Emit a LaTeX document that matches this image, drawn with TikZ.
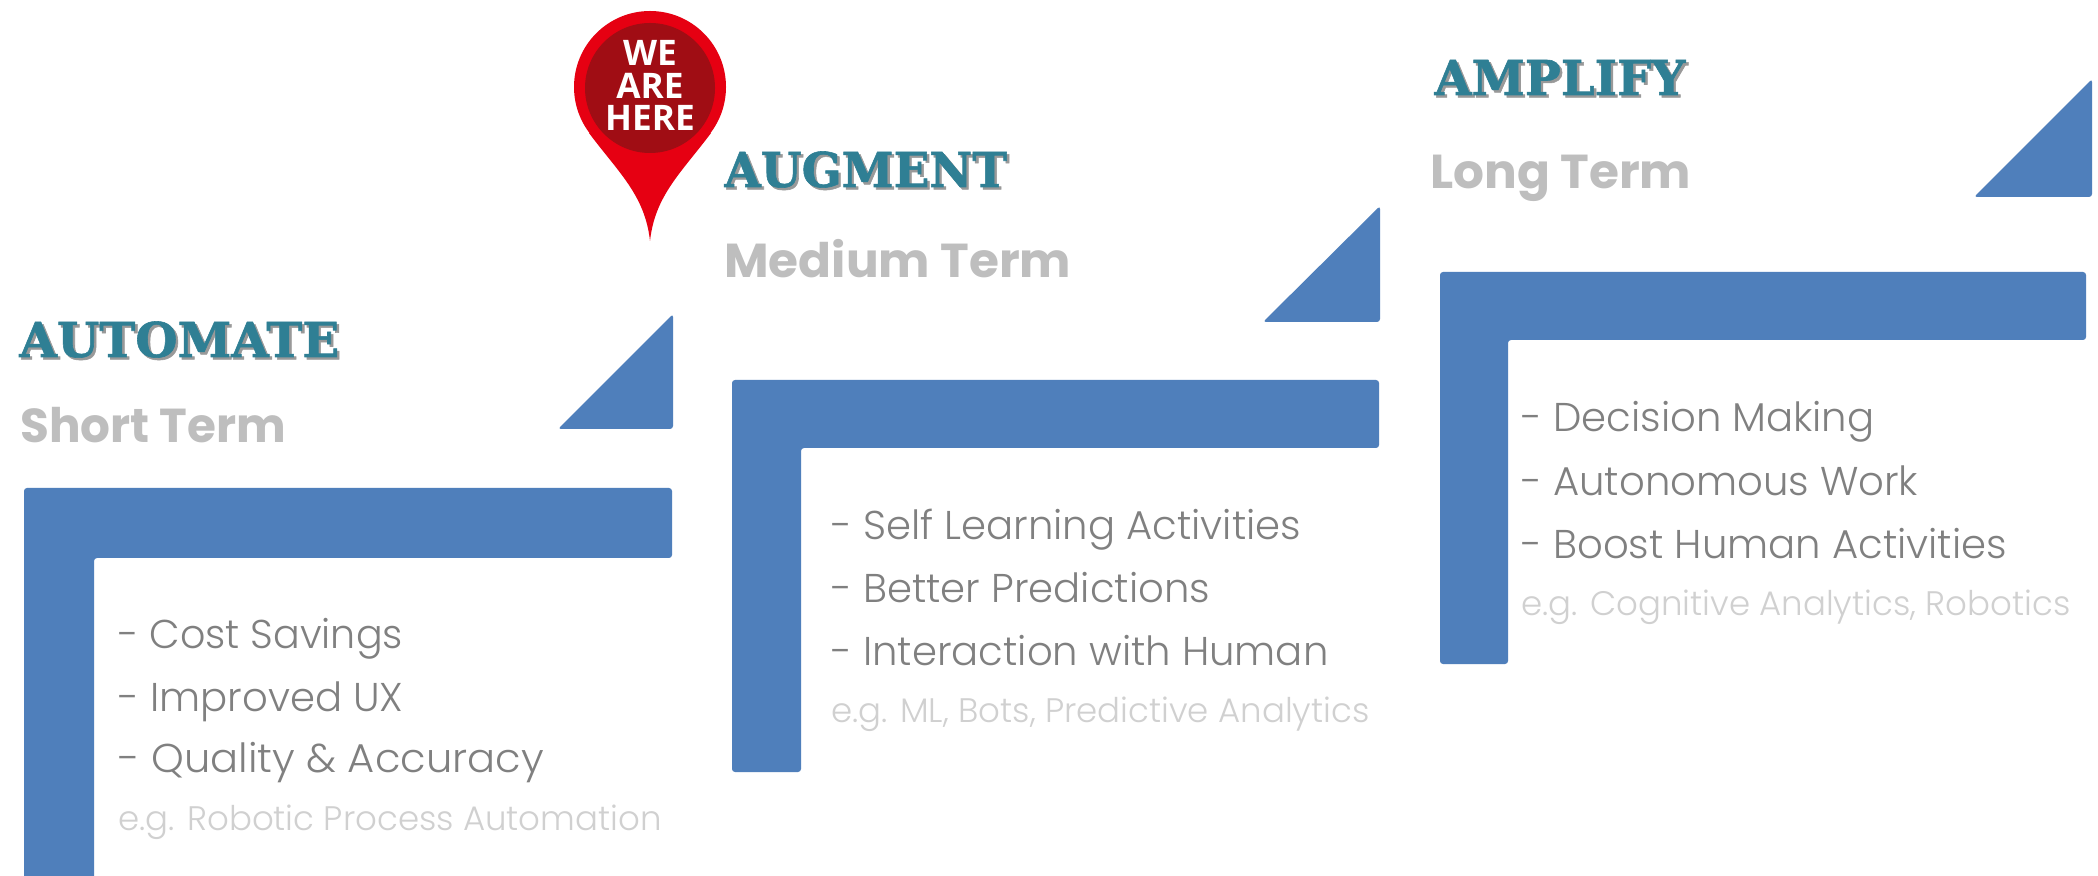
\documentclass[tikz,border=0pt]{standalone}
\usepackage{fontspec}
\setmainfont{Poppins Light}
\newfontfamily\headfont{DejaVu Serif Bold}[FakeBold=1.2]
\newfontfamily\pinfont{Open Sans}
\newfontfamily\subfont{Poppins}
\definecolor{barblue}{HTML}{4F7FBB}
\definecolor{headteal}{HTML}{2F7F94}
\definecolor{subgrey}{HTML}{BEBEBE}
\definecolor{bodygrey}{HTML}{808080}
\definecolor{egrey}{HTML}{D0D0D0}
\definecolor{pinred}{HTML}{E60012}
\definecolor{pindark}{HTML}{A00D14}
\newcommand{\shadowed}[1]{\rlap{\kern1.2pt\raisebox{-1.2pt}{\color{black!40}#1}}#1}
\tikzset{
  x=0.5pt,y=-0.5pt,
  barshape/.style={fill=barblue,rounded corners=1.5pt},
  headtext/.style={anchor=base west,inner sep=0pt,text=headteal,font=\headfont\fontsize{24}{26}\selectfont},
  subtext/.style={anchor=base west,inner sep=0pt,text=subgrey,font=\subfont\bfseries\fontsize{23.8}{26}\selectfont},
  bodytext/.style={anchor=base west,inner sep=0pt,text=bodygrey,font=\fontsize{20.1}{22}\selectfont},
  egtext/.style={anchor=base west,inner sep=0pt,text=egrey,font=\fontsize{17}{20}\selectfont},
  pintext/.style={anchor=base,inner sep=0pt,text=white,font=\pinfont\bfseries\fontsize{17.6}{18}\selectfont},
}
\begin{document}
\begin{tikzpicture}
\useasboundingbox (0,0) rectangle (2098,876);
\fill[white] (0,0) rectangle (2098,876);
% bars
\fill[barshape] (24,890) -- (24,488) -- (672,488) -- (672,558) -- (94,558) -- (94,890) -- cycle;
\fill[barshape] (558,429) -- (673,314) -- (673,429) -- cycle;
\fill[barshape] (732,772) -- (732,380) -- (1379,380) -- (1379,448) -- (801,448) -- (801,772) -- cycle;
\fill[barshape] (1263,322) -- (1380,206) -- (1380,322) -- cycle;
\fill[barshape] (1440,664) -- (1440,272) -- (2086,272) -- (2086,340) -- (1508,340) -- (1508,664) -- cycle;
\fill[barshape] (1974,197) -- (2092,79) -- (2092,197) -- cycle;
% pin
\fill[pinred] (650,87) circle[radius=76];
\fill[pinred] (589,133) .. controls (618,172) and (645,195) .. (650,241) .. controls (655,195) and (682,172) .. (711,133) -- cycle;
\fill[pindark] (650,88) circle[radius=65];
\node[pintext] (pinA) at (650,66) {WE};
\node[pintext] (pinB) at (650,98.5) {ARE};
\node[pintext] (pinC) at (650,131) {HERE};
% group 1
\node[headtext] (h1) at (19,357) {\shadowed{\scalebox{1.01}[1]{AUTOMATE}}};
\node[subtext] (s1) at (20,443) {\scalebox{0.985}[1]{Short Term}};
\node[bodytext] (a1) at (118,648) {\scalebox{0.985}[1]{- Cost Savings}};
\node[bodytext] (a2) at (118,711) {- Improved UX};
\node[bodytext] (a3) at (118,772) {\scalebox{1.035}[1]{- Quality \& Accuracy}};
\node[egtext] (a4) at (118,830) {e.g. Robotic Process Automation};
% group 2
\node[headtext] (h2) at (724,187) {\shadowed{\scalebox{0.977}[1]{AUGMENT}}};
\node[subtext] (s2) at (724,278) {\scalebox{1.02}[1]{Medium Term}};
\node[bodytext] (b1) at (831,540) {- Self Learning Activities};
\node[bodytext] (b2) at (831,603) {- Better Predictions};
\node[bodytext] (b3) at (831,665) {- Interaction with Human};
\node[egtext] (b4) at (831,722) {e.g. ML, Bots, Predictive Analytics};
% group 3
\node[headtext] (h3) at (1434,95) {\shadowed{AMPLIFY}};
\node[subtext] (s3) at (1430,189) {\scalebox{1.02}[1]{Long Term}};
\node[bodytext] (c1) at (1521,432) {- Decision Making};
\node[bodytext] (c2) at (1521,496) {- Autonomous Work};
\node[bodytext] (c3) at (1521,559) {- Boost Human Activities};
\node[egtext] (c4) at (1521,615) {e.g. Cognitive Analytics, Robotics};
\end{tikzpicture}
\end{document}
